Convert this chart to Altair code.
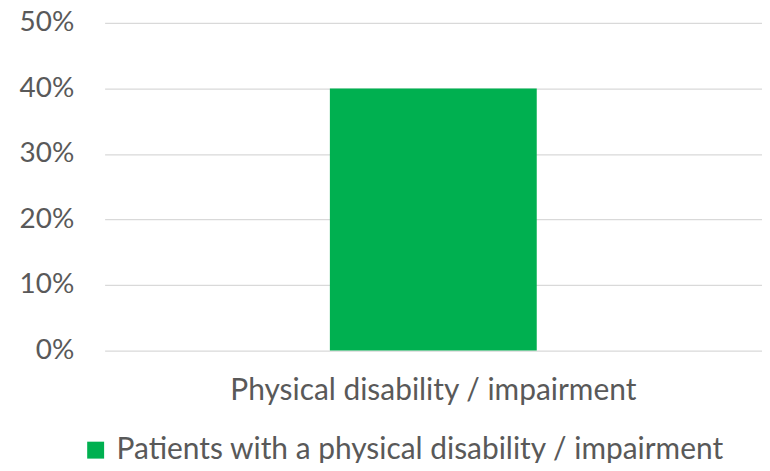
import altair as alt
import pandas as pd

categories = ["Physical disability / impairment"]
values = [0.40]
series = ["Patients with a physical disability / impairment"]
y_ticks = [0, 0.1, 0.2, 0.3, 0.4, 0.5]

df = pd.DataFrame({"category": categories, "value": values, "series": series})

FONT = "Lato"
TEXT = "#595959"

chart = alt.Chart(df).mark_bar(color="#00B050").encode(
    x=alt.X("category:N", title=None,
            scale=alt.Scale(paddingInner=0.685, paddingOuter=0.343),
            axis=alt.Axis(labelAngle=0, labelFontSize=30, labelColor=TEXT, labelFont=FONT,
                          domain=False, ticks=False, labelPadding=25, labelLimit=800)),
    y=alt.Y("value:Q", title=None,
            scale=alt.Scale(domain=[0, 0.5], nice=False),
            axis=alt.Axis(values=y_ticks, format=".0%", labelFontSize=28, labelColor=TEXT,
                          labelFont=FONT, domain=False, ticks=False, labelPadding=31,
                          gridColor="#d9d9d9", gridWidth=1.3)),
    color=alt.Color("series:N",
                    scale=alt.Scale(domain=series, range=["#00B050"]),
                    legend=alt.Legend(title=None, orient="none", legendX=-24, legendY=414,
                                      symbolType="square", symbolSize=289,
                                      symbolStrokeWidth=0, labelFontSize=30,
                                      labelColor=TEXT, labelFont=FONT, labelLimit=800,
                                      labelOffset=6))
).properties(
    width=660, height=329,
    autosize=alt.AutoSizeParams(type="none"),
    padding={"left": 97, "top": 14, "right": 0, "bottom": 112}
).configure_view(stroke=None)

chart.save("out.html", embed_options={"renderer": "svg", "actions": False})
